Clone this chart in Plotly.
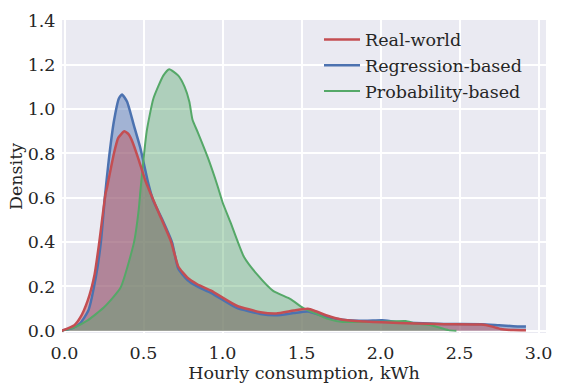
import plotly.graph_objects as go

# Real-world (red)
real_x = [-0.02, 0.0, 0.0625, 0.1, 0.146, 0.19, 0.22, 0.26, 0.27, 0.3125, 0.34, 0.379, 0.406, 0.427, 0.47, 0.51, 0.55, 0.6, 0.675, 0.72, 0.78, 0.84, 0.93, 1.09, 1.24, 1.34, 1.45, 1.54, 1.59, 1.66, 1.76, 1.9, 2.01, 2.22, 2.4, 2.64, 2.7, 2.76, 2.84, 2.92]
real_y = [0, 0.005, 0.025, 0.06, 0.135, 0.253, 0.40, 0.62, 0.65, 0.80, 0.87, 0.90, 0.886, 0.857, 0.77, 0.68, 0.61, 0.526, 0.40, 0.29, 0.238, 0.21, 0.18, 0.113, 0.084, 0.078, 0.091, 0.099, 0.088, 0.069, 0.05, 0.042, 0.038, 0.033, 0.03, 0.028, 0.02, 0.008, 0.003, 0.002]

# Regression-based (blue)
reg_x = [-0.02, 0.0, 0.05, 0.1, 0.15, 0.2, 0.23, 0.255, 0.28, 0.3125, 0.344, 0.364, 0.396, 0.4375, 0.479, 0.53, 0.56, 0.62, 0.68, 0.72, 0.78, 0.84, 0.93, 1.09, 1.24, 1.34, 1.45, 1.54, 1.66, 1.76, 1.9, 2.01, 2.1, 2.22, 2.4, 2.64, 2.75, 2.84, 2.92]
reg_y = [0, 0.004, 0.012, 0.035, 0.09, 0.25, 0.4, 0.6, 0.77, 0.945, 1.048, 1.066, 1.033, 0.93, 0.827, 0.665, 0.59, 0.5, 0.4, 0.28, 0.228, 0.2, 0.17, 0.103, 0.076, 0.07, 0.08, 0.087, 0.062, 0.05, 0.045, 0.047, 0.04, 0.035, 0.031, 0.03, 0.025, 0.021, 0.019]

# Probability-based (green)
prob_x = [-0.02, 0.0, 0.05, 0.146, 0.25, 0.354, 0.44, 0.47, 0.48, 0.52, 0.5625, 0.625, 0.6625, 0.72, 0.76, 0.79, 0.81, 0.844, 0.906, 0.97, 1.0, 1.05, 1.135, 1.22, 1.32, 1.43, 1.51, 1.59, 1.66, 1.76, 1.9, 2.05, 2.16, 2.22, 2.32, 2.43, 2.48]
prob_y = [0, 0.003, 0.012, 0.047, 0.106, 0.194, 0.40, 0.55, 0.63, 0.90, 1.048, 1.151, 1.18, 1.151, 1.10, 1.033, 0.952, 0.894, 0.783, 0.65, 0.58, 0.49, 0.334, 0.253, 0.18, 0.143, 0.103, 0.077, 0.055, 0.04, 0.04, 0.042, 0.044, 0.033, 0.025, 0.003, 0.0]

x_ticks = [0.0, 0.5, 1.0, 1.5, 2.0, 2.5, 3.0]
y_ticks = [0.0, 0.2, 0.4, 0.6, 0.8, 1.0, 1.2, 1.4]

RED = "#C44E52"
BLUE = "#4C72B0"
GREEN = "#55A868"

def rgba(h, a):
    h = h.lstrip("#")
    return "rgba(%d,%d,%d,%.2f)" % (int(h[0:2], 16), int(h[2:4], 16), int(h[4:6], 16), a)

FONT = "DejaVu Serif"
TXT = "#262626"
FS = 17.5

fig = go.Figure()

# fills
for xs, ys, col, a in [(reg_x, reg_y, BLUE, 0.45), (real_x, real_y, RED, 0.45), (prob_x, prob_y, GREEN, 0.4)]:
    fig.add_trace(go.Scatter(x=xs, y=ys, mode="lines", fill="tozeroy",
                             fillcolor=rgba(col, a), line=dict(width=0, shape="spline", smoothing=0.5),
                             showlegend=False, hoverinfo="skip"))

# lines
fig.add_trace(go.Scatter(x=reg_x, y=reg_y, mode="lines", name="Regression-based",
                         line=dict(color=BLUE, width=2.5, shape="spline", smoothing=0.5), legendrank=2))
fig.add_trace(go.Scatter(x=prob_x, y=prob_y, mode="lines", name="Probability-based",
                         line=dict(color=GREEN, width=2, shape="spline", smoothing=0.5), legendrank=3))
fig.add_trace(go.Scatter(x=real_x, y=real_y, mode="lines", name="Real-world",
                         line=dict(color=RED, width=2.5, shape="spline", smoothing=0.5), legendrank=1))

fig.update_layout(
    width=563, height=388,
    margin=dict(l=62, r=11, t=14, b=55),
    plot_bgcolor="#EAEAF2", paper_bgcolor="white",
    font=dict(family=FONT, size=FS, color=TXT),
    legend=dict(x=0.531, y=0.995, xanchor="left", yanchor="top",
                bgcolor="rgba(0,0,0,0)", font=dict(family=FONT, size=FS, color=TXT),
                itemwidth=36, tracegroupgap=0),
    xaxis=dict(range=[-0.016, 3.047], tickvals=x_ticks, ticktext=["%.1f" % v for v in x_ticks],
               showgrid=True, gridcolor="white", gridwidth=1.5, zeroline=False,
               ticks="outside", ticklen=4, tickcolor="rgba(0,0,0,0)",
               title=dict(text="Hourly consumption, kWh", font=dict(size=FS), standoff=0),
               showline=False),
    yaxis=dict(range=[-0.01, 1.402], tickvals=y_ticks, ticktext=["%.1f" % v for v in y_ticks],
               showgrid=True, gridcolor="white", gridwidth=1.5, zeroline=False,
               ticks="outside", ticklen=2, tickcolor="rgba(0,0,0,0)",
               title=dict(text="Density", font=dict(size=FS), standoff=0),
               showline=False),
)

fig.write_html("out.html")
